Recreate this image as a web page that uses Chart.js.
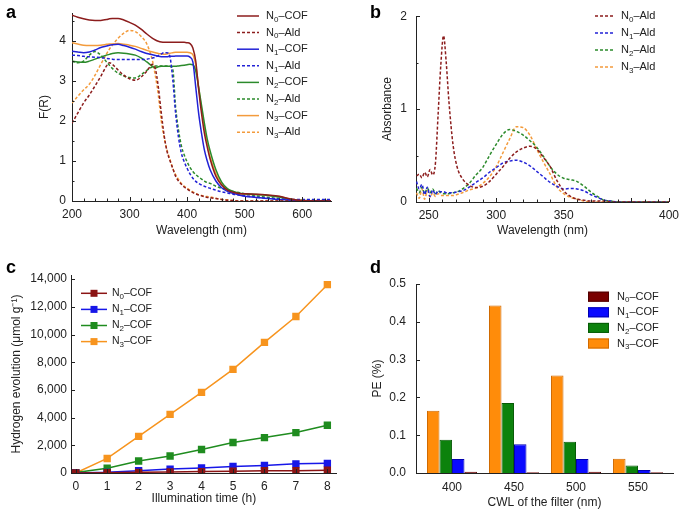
<!DOCTYPE html>
<html>
<head>
<meta charset="utf-8">
<script src="https://cdn.jsdelivr.net/npm/chart.js@4.4.0/dist/chart.umd.min.js"></script>
<style>
  body { margin: 0; background: #fff; }
  #wrap { position: relative; width: 685px; height: 510px; overflow: hidden; }
  canvas { position: absolute; }
  .lbl { position: absolute; font: bold 18px "Liberation Sans", Arial, sans-serif; line-height: 18px; color: #000; }
</style>
</head>
<body>
<div id="wrap">
  <canvas id="chartA" width="342" height="250" style="left:0;top:0"></canvas>
  <canvas id="chartB" width="343" height="250" style="left:342px;top:0"></canvas>
  <canvas id="chartC" width="342" height="260" style="left:0;top:250px"></canvas>
  <canvas id="chartD" width="343" height="260" style="left:342px;top:250px"></canvas>
  <div class="lbl" style="left:6px;top:3px">a</div>
  <div class="lbl" style="left:370px;top:3px">b</div>
  <div class="lbl" style="left:6px;top:258px">c</div>
  <div class="lbl" style="left:370px;top:258px">d</div>
</div>
<script>
// ---- panel a : F(R) spectra
var aWave = [200,210,220,230,240,250,260,265,270,280,290,300,310,320,330,340,345,350,355,360,365,370,375,380,385,390,395,400,405,410,415,420,425,430,435,440,450,460,470,480,490,500,520,540,560,580,600,620,650];
var aN0Cof = [4.65,4.6,4.56,4.53,4.52,4.52,4.54,4.56,4.57,4.57,4.53,4.47,4.4,4.3,4.18,4.07,4.03,4.0,3.98,3.97,3.97,3.97,3.97,3.97,3.97,3.97,3.97,3.96,3.94,3.83,3.5,2.8,2.2,1.7,1.35,1.05,0.62,0.4,0.27,0.22,0.19,0.18,0.17,0.15,0.12,0.05,0.01,0,0];
var aN0Ald = [1.95,2.2,2.45,2.65,2.88,3.12,3.38,3.46,3.42,3.28,3.15,3.06,3.02,3.1,3.25,3.42,3.3,2.85,2.22,1.65,1.25,1.02,0.82,0.62,0.5,0.42,0.35,0.3,0.25,0.21,0.18,0.15,0.13,0.11,0.09,0.08,0.06,0.04,0.02,0.01,0,0,0,0,0,0,0,0,0];
var aN1Cof = [3.75,3.73,3.71,3.73,3.78,3.84,3.88,3.9,3.91,3.92,3.89,3.85,3.8,3.74,3.69,3.66,3.64,3.62,3.61,3.61,3.61,3.62,3.62,3.63,3.63,3.63,3.63,3.63,3.6,3.48,2.85,2.2,1.7,1.28,1.0,0.78,0.5,0.33,0.24,0.19,0.15,0.12,0.09,0.06,0.04,0.02,0,0,0];
var aN1Ald = [3.65,3.64,3.62,3.61,3.6,3.59,3.57,3.56,3.55,3.54,3.54,3.54,3.54,3.54,3.55,3.58,3.6,3.64,3.68,3.71,3.71,3.62,3.05,2.2,1.6,1.2,0.98,0.82,0.68,0.57,0.49,0.44,0.4,0.37,0.34,0.32,0.27,0.23,0.2,0.17,0.15,0.13,0.1,0.07,0.05,0.04,0.04,0.04,0.04];
var aN2Cof = [3.5,3.48,3.47,3.5,3.55,3.6,3.65,3.67,3.69,3.71,3.7,3.68,3.65,3.58,3.48,3.37,3.33,3.36,3.37,3.37,3.37,3.37,3.37,3.37,3.38,3.39,3.4,3.41,3.42,3.41,3.25,2.85,2.4,1.95,1.55,1.25,0.78,0.47,0.31,0.24,0.2,0.18,0.16,0.14,0.1,0.04,0.01,0,0];
var aN2Ald = [3.5,3.46,3.5,3.65,3.74,3.65,3.48,3.4,3.32,3.2,3.13,3.09,3.08,3.16,3.27,3.36,3.38,3.38,3.38,3.38,3.38,3.37,3.3,2.35,1.78,1.38,1.15,0.98,0.84,0.74,0.66,0.6,0.55,0.5,0.46,0.44,0.37,0.32,0.28,0.24,0.21,0.18,0.13,0.09,0.06,0.03,0.02,0.02,0.02];
var aN3Cof = [3.96,3.93,3.9,3.89,3.89,3.9,3.92,3.93,3.93,3.94,3.92,3.9,3.87,3.82,3.77,3.73,3.71,3.69,3.68,3.67,3.68,3.7,3.71,3.72,3.72,3.72,3.72,3.72,3.71,3.66,3.4,2.85,2.3,1.82,1.42,1.1,0.68,0.42,0.29,0.22,0.19,0.17,0.16,0.14,0.11,0.05,0.01,0,0];
var aN3Ald = [2.45,2.62,2.78,2.92,3.15,3.42,3.68,3.8,3.9,4.07,4.2,4.27,4.24,4.12,3.93,3.5,3.12,2.65,2.02,1.6,1.28,1.05,0.82,0.66,0.54,0.44,0.37,0.32,0.27,0.23,0.19,0.16,0.14,0.12,0.11,0.1,0.07,0.04,0.03,0.01,0,0,0,0,0,0,0,0,0];
var aXTicks = [200,300,400,500,600];
var aYTicks = [0,1,2,3,4];

// ---- panel b : absorbance of the aldehydes
var bWave = [241,243,245,247,249,251,253,255,257,259,261,263,265,268,271,275,280,285,290,295,300,305,310,315,320,325,330,335,340,345,350,355,360,365,370,375,380,385,390,400,410,420,428];
var bN0Ald = [0.28,0.3,0.26,0.32,0.27,0.35,0.29,0.42,0.95,1.48,1.79,1.5,1.08,0.62,0.38,0.25,0.18,0.155,0.17,0.22,0.3,0.38,0.47,0.54,0.58,0.6,0.57,0.48,0.38,0.23,0.12,0.06,0.03,0.02,0.01,0.01,0.01,0,0,0,0,0,0];
var bN1Ald = [0.22,0.14,0.19,0.08,0.16,0.06,0.13,0.08,0.12,0.11,0.11,0.1,0.1,0.1,0.11,0.12,0.16,0.21,0.26,0.32,0.37,0.42,0.44,0.45,0.43,0.39,0.33,0.27,0.21,0.17,0.14,0.145,0.14,0.12,0.08,0.05,0.02,0.01,0,0,0,0,0];
var bN2Ald = [0.15,0.1,0.16,0.09,0.15,0.1,0.14,0.09,0.12,0.1,0.09,0.09,0.09,0.1,0.11,0.14,0.2,0.29,0.37,0.5,0.62,0.73,0.78,0.76,0.72,0.66,0.59,0.49,0.38,0.3,0.255,0.24,0.22,0.17,0.11,0.06,0.02,0.01,0,0,0,0,0];
var bN3Ald = [0.1,0.04,0.14,0.03,0.12,0.05,0.1,0.06,0.09,0.07,0.07,0.07,0.07,0.07,0.08,0.1,0.13,0.15,0.2,0.27,0.38,0.53,0.68,0.81,0.8,0.72,0.57,0.43,0.3,0.16,0.09,0.05,0.03,0.01,0,0,0,0,0,0,0,0,0];
var bXTickVals = [250,300,350,428];
var bXTickLabels = ['250','300','350','400'];
var bYTicks = [0,1,2];

// ---- panel c : hydrogen evolution
var cTime = [0,1,2,3,4,5,6,7,8];
var cN0 = [0,20,50,70,100,130,160,170,200];
var cN1 = [0,50,170,280,360,470,550,660,700];
var cN2 = [30,350,870,1230,1700,2200,2560,2920,3450];
var cN3 = [0,1050,2650,4230,5820,7480,9430,11300,13600];
var cXTicks = [0,1,2,3,4,5,6,7,8];
var cYTicks = [0,2000,4000,6000,8000,10000,12000,14000];

// ---- panel d : photon efficiency per filter
var dCwl = [400,450,500,550];
var dN3 = [0.165,0.443,0.258,0.038];
var dN2 = [0.088,0.185,0.083,0.02];
var dN1 = [0.037,0.076,0.037,0.008];
var dN0 = [0.003,0.002,0.003,0.002];
var dYTicks = [0,0.1,0.2,0.3,0.4,0.5];

var FONT = '"Liberation Sans", Arial, Helvetica, sans-serif';
Chart.defaults.font.family = FONT;
Chart.defaults.font.size = 12;
Chart.defaults.color = '#222';

var RED = '#8c1d1d', BLUE = '#2222d6', GREEN = '#2b8a2b', ORANGE = '#f39b3c';

function pairs(xs, ys) {
  return xs.map(function (x, i) { return {x: x, y: ys[i]}; });
}

function fixedTicks(values) {
  return function (scale) {
    scale.ticks = values.map(function (v) { return {value: v}; });
  };
}

// label with unicode subscripts drawn as real lowered digits
var SUBS = {'\u2080': '0', '\u2081': '1', '\u2082': '2', '\u2083': '3'};
function drawRichLabel(ctx, text, x, y, size) {
  ctx.textBaseline = 'middle';
  ctx.textAlign = 'left';
  ctx.fillStyle = '#222';
  Array.from(text).forEach(function (ch) {
    if (SUBS[ch]) {
      ctx.font = Math.round(size * 0.72) + 'px ' + FONT;
      ctx.fillText(SUBS[ch], x, y + size * 0.32);
      x += ctx.measureText(SUBS[ch]).width;
    } else {
      ctx.font = size + 'px ' + FONT;
      ctx.fillText(ch, x, y);
      x += ctx.measureText(ch).width;
    }
  });
}

var sideLegend = {
  id: 'sideLegend',
  afterDraw: function (chart, args, opts) {
    if (opts.x === undefined) return;
    var ctx = chart.ctx;
    var sets = chart.data.datasets.slice();
    if (opts.reverse) sets.reverse();
    ctx.save();
    sets.forEach(function (ds, i) {
      var y = opts.y + i * opts.dy;
      if (opts.kind === 'box') {
        ctx.fillStyle = ds.backgroundColor;
        ctx.fillRect(opts.x, y - 5, opts.len, 10);
        ctx.strokeStyle = ds.borderColor;
        ctx.lineWidth = 1;
        ctx.strokeRect(opts.x + 0.5, y - 4.5, opts.len - 1, 9);
      } else {
        ctx.strokeStyle = ds.borderColor;
        ctx.lineWidth = ds.borderWidth;
        ctx.setLineDash(ds.borderDash || []);
        ctx.beginPath();
        ctx.moveTo(opts.x, y);
        ctx.lineTo(opts.x + opts.len, y);
        ctx.stroke();
        ctx.setLineDash([]);
        if (opts.kind === 'marker') {
          ctx.fillStyle = ds.pointBackgroundColor;
          ctx.fillRect(opts.x + opts.len / 2 - 3.5, y - 3.5, 7, 7);
        }
      }
      drawRichLabel(ctx, ds.label, opts.x + opts.len + opts.gap, y, opts.size);
    });
    ctx.restore();
  }
};

// small tick marks pointing into the plot
var innerTicks = {
  id: 'innerTicks',
  afterDraw: function (chart, args, opts) {
    var ctx = chart.ctx, area = chart.chartArea;
    ctx.save();
    ctx.strokeStyle = '#222';
    ctx.lineWidth = 1;
    ['x', 'y'].forEach(function (id) {
      var o = opts[id];
      if (!o) return;
      var s = chart.scales[id];
      var list = [];
      [[o.major, 4], [o.minor, 2.5]].forEach(function (pair) {
        var step = pair[0];
        if (!step) return;
        var k0 = Math.ceil(s.min / step - 1e-6), k1 = Math.floor(s.max / step + 1e-6);
        for (var k = k0; k <= k1; k++) list.push([k * step, pair[1]]);
      });
      (o.extra || []).forEach(function (v) { list.push([v, 4]); });
      list.forEach(function (t) {
        var p = Math.round(s.getPixelForValue(t[0])) + 0.5;
        ctx.beginPath();
        if (id === 'x') { ctx.moveTo(p, area.bottom); ctx.lineTo(p, area.bottom - t[1]); }
        else { ctx.moveTo(area.left, p); ctx.lineTo(area.left + t[1], p); }
        ctx.stroke();
      });
    });
    ctx.restore();
  }
};

function axis(extra) {
  var base = {
    grid: {display: false, drawTicks: false},
    border: {display: true, color: '#222', width: 1},
    ticks: {autoSkip: false, maxRotation: 0, color: '#222', font: {size: 12}}
  };
  return Object.assign(base, extra);
}

function lineSet(label, xs, ys, color, dashed) {
  return {
    label: label,
    data: pairs(xs, ys),
    borderColor: color,
    borderWidth: 1.5,
    borderDash: dashed ? [3, 2] : [],
    pointRadius: 0,
    tension: 0.4,
    cubicInterpolationMode: 'monotone',
    fill: false
  };
}

var common = {
  responsive: false,
  animation: false,
  devicePixelRatio: 1,
  events: []
};

// ---------- a
new Chart(document.getElementById('chartA'), {
  type: 'line',
  data: {
    datasets: [
      lineSet('N\u2080\u2013COF', aWave, aN0Cof, RED, false),
      lineSet('N\u2080\u2013Ald', aWave, aN0Ald, RED, true),
      lineSet('N\u2081\u2013COF', aWave, aN1Cof, BLUE, false),
      lineSet('N\u2081\u2013Ald', aWave, aN1Ald, BLUE, true),
      lineSet('N\u2082\u2013COF', aWave, aN2Cof, GREEN, false),
      lineSet('N\u2082\u2013Ald', aWave, aN2Ald, GREEN, true),
      lineSet('N\u2083\u2013COF', aWave, aN3Cof, ORANGE, false),
      lineSet('N\u2083\u2013Ald', aWave, aN3Ald, ORANGE, true)
    ]
  },
  plugins: [sideLegend, innerTicks],
  options: Object.assign({}, common, {
    layout: {padding: {left: 0, top: 13, right: 11, bottom: 0}},
    scales: {
      x: axis({type: 'linear', min: 200, max: 650,
        afterBuildTicks: fixedTicks(aXTicks),
        afterFit: function (s) { s.height = 49; },
        ticks: {autoSkip: false, maxRotation: 0, padding: 6, font: {size: 12}},
        title: {display: true, text: 'Wavelength (nm)', font: {size: 12, lineHeight: 1.2}, padding: {top: 0, bottom: 12}}}),
      y: axis({type: 'linear', min: 0, max: 4.7,
        afterBuildTicks: fixedTicks(aYTicks),
        afterFit: function (s) { s.width = 72; },
        ticks: {autoSkip: false, padding: 6, font: {size: 12}},
        title: {display: true, text: 'F(R)', font: {size: 12, lineHeight: 1.2}, padding: {top: 37, bottom: 0}}})
    },
    plugins: {
      legend: {display: false},
      tooltip: {enabled: false},
      sideLegend: {x: 237, y: 16, dy: 16.6, len: 22, gap: 7, size: 11},
      innerTicks: {x: {major: 100, minor: 20}, y: {major: 1, minor: 0.5}}
    }
  })
});

// ---------- b
new Chart(document.getElementById('chartB'), {
  type: 'line',
  data: {
    datasets: [
      lineSet('N\u2080\u2013Ald', bWave, bN0Ald, RED, true),
      lineSet('N\u2081\u2013Ald', bWave, bN1Ald, BLUE, true),
      lineSet('N\u2082\u2013Ald', bWave, bN2Ald, GREEN, true),
      lineSet('N\u2083\u2013Ald', bWave, bN3Ald, ORANGE, true)
    ]
  },
  plugins: [sideLegend, innerTicks],
  options: Object.assign({}, common, {
    layout: {padding: {left: 0, top: 10, right: 10, bottom: 0}},
    scales: {
      x: axis({type: 'linear', min: 240.6, max: 428,
        afterBuildTicks: fixedTicks(bXTickVals),
        afterFit: function (s) { s.height = 48; },
        ticks: {autoSkip: false, maxRotation: 0, padding: 6, font: {size: 12},
          callback: function (v) { return bXTickLabels[bXTickVals.indexOf(v)]; }},
        title: {display: true, text: 'Wavelength (nm)', font: {size: 12, lineHeight: 1.2}, padding: {top: 0, bottom: 12}}}),
      y: axis({type: 'linear', min: 0, max: 2,
        afterBuildTicks: fixedTicks(bYTicks),
        afterFit: function (s) { s.width = 74; },
        ticks: {autoSkip: false, padding: 9, font: {size: 12}},
        title: {display: true, text: 'Absorbance', font: {size: 12, lineHeight: 1.2}, padding: {top: 38, bottom: 0}}})
    },
    plugins: {
      legend: {display: false},
      tooltip: {enabled: false},
      sideLegend: {x: 253, y: 16, dy: 17, len: 20, gap: 6, size: 11},
      innerTicks: {x: {major: 50, minor: 10, extra: [428]}, y: {major: 1, minor: 0.5}}
    }
  })
});

// ---------- c
function markerSet(label, ys, color) {
  return {
    label: label,
    data: pairs(cTime, ys),
    borderColor: color,
    borderWidth: 1.5,
    pointStyle: 'rect',
    pointRadius: 5.2,
    pointBackgroundColor: color,
    pointBorderColor: color,
    pointBorderWidth: 0,
    fill: false
  };
}

new Chart(document.getElementById('chartC'), {
  type: 'line',
  data: {
    datasets: [
      markerSet('N\u2080\u2013COF', cN0, '#8b1414'),
      markerSet('N\u2081\u2013COF', cN1, '#1717e8'),
      markerSet('N\u2082\u2013COF', cN2, '#1f8c1f'),
      markerSet('N\u2083\u2013COF', cN3, '#f7941e')
    ]
  },
  plugins: [sideLegend, innerTicks],
  options: Object.assign({}, common, {
    layout: {padding: {left: 0, top: 25, right: 4, bottom: 0}},
    scales: {
      x: axis({type: 'linear', min: -0.15, max: 8.3,
        afterBuildTicks: fixedTicks(cXTicks),
        afterFit: function (s) { s.height = 37; },
        ticks: {autoSkip: false, maxRotation: 0, padding: 6, font: {size: 12}},
        title: {display: true, text: 'Illumination time (h)', font: {size: 12, lineHeight: 1.2}, padding: {top: 0, bottom: 4}}}),
      y: axis({type: 'linear', min: 0, max: 14300,
        afterBuildTicks: fixedTicks(cYTicks),
        afterFit: function (s) { s.width = 71; },
        ticks: {autoSkip: false, padding: 4, font: {size: 12},
          callback: function (v) { return String(v).replace(/\B(?=(\d{3})+(?!\d))/g, ','); }},
        title: {display: true, text: 'Hydrogen evolution (\u03bcmol g\u207b\u00b9)', font: {size: 12, lineHeight: 1.2}, padding: {top: 9, bottom: 0}}})
    },
    plugins: {
      legend: {display: false},
      tooltip: {enabled: false},
      sideLegend: {x: 81, y: 43.3, dy: 16.1, len: 26, gap: 5, size: 10.5, kind: 'marker'},
      innerTicks: {x: {major: 1}, y: {major: 2000}}
    }
  })
});

// ---------- d
function barSet(label, ys, fill, edge) {
  return {
    label: label,
    data: pairs(dCwl, ys),
    backgroundColor: fill,
    borderColor: edge,
    borderWidth: 1,
    categoryPercentage: 0.806,
    barPercentage: 1.0
  };
}

new Chart(document.getElementById('chartD'), {
  type: 'bar',
  data: {
    datasets: [
      barSet('N\u2083\u2013COF', dN3, '#ff8c0a', '#d06a00'),
      barSet('N\u2082\u2013COF', dN2, '#0c820c', '#065a06'),
      barSet('N\u2081\u2013COF', dN1, '#0a0aff', '#0000b0'),
      barSet('N\u2080\u2013COF', dN0, '#7a0000', '#500000')
    ]
  },
  plugins: [sideLegend, innerTicks],
  options: Object.assign({}, common, {
    layout: {padding: {left: 0, top: 34, right: 12, bottom: 0}},
    scales: {
      x: axis({type: 'linear', min: 371, max: 578.2, offset: false,
        afterBuildTicks: fixedTicks(dCwl),
        afterFit: function (s) { s.height = 37; },
        ticks: {autoSkip: false, maxRotation: 0, padding: 7, font: {size: 12}},
        title: {display: true, text: 'CWL of the filter (nm)', font: {size: 12, lineHeight: 1.2}, padding: {top: 0, bottom: 0}}}),
      y: axis({type: 'linear', min: 0, max: 0.5,
        afterBuildTicks: fixedTicks(dYTicks),
        afterFit: function (s) { s.width = 74; },
        ticks: {autoSkip: false, padding: 10, font: {size: 12},
          callback: function (v) { return v.toFixed(1); }},
        title: {display: true, text: 'PE (%)', font: {size: 12, lineHeight: 1.2}, padding: {top: 28, bottom: 0}}})
    },
    plugins: {
      legend: {display: false},
      tooltip: {enabled: false},
      sideLegend: {x: 246, y: 46.7, dy: 15.6, len: 21, gap: 8, size: 11, kind: 'box', reverse: true},
      innerTicks: {y: {major: 0.1}}
    }
  })
});
</script>
</body>
</html>
